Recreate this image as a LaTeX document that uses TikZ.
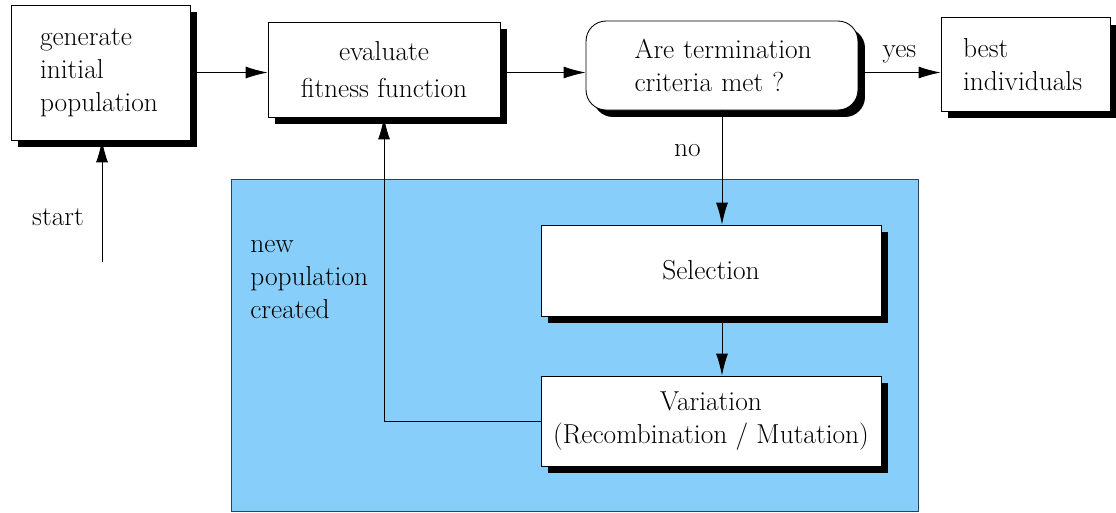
\documentclass[tikz,border=0pt]{standalone}
\usepackage{fontspec}
\usetikzlibrary{arrows.meta,shadows}
\definecolor{popblue}{RGB}{135,206,250}
\definecolor{popedge}{RGB}{45,65,90}
\tikzset{
  txt/.style={font=\fontsize{15.6}{18.8}\selectfont},
  procbox/.style={draw, fill=white, line width=0.5pt,
    drop shadow={fill=black, opacity=1, shadow xshift=0.14cm, shadow yshift=-0.14cm}},
}
\begin{document}
\begin{tikzpicture}[x=0.02cm,y=-0.02cm,>={Latex[length=0.44cm,width=0.24cm]},line width=0.5pt,txt]
	\useasboundingbox (0,0) rectangle (1116,512);

	% area of the new population
	\draw[popedge, fill=popblue] (231,179) rectangle (918,511);

	% the boxes
	\node[procbox, minimum width=3.58cm, minimum height=2.7cm, text width=2.42cm, inner xsep=0.58cm, align=left] (gen) at (100.5,72.5) {generate\\initial\\population\\[-0.2cm]};
	\node[procbox, minimum width=4.64cm, minimum height=1.9cm, align=center, font=\fontsize{15.6}{21}\selectfont] (eval) at (384,69.5) {evaluate\\fitness function};
	\node[procbox, rounded corners=0.4cm, minimum width=5.44cm, minimum height=1.78cm, text width=3.8cm, inner xsep=0.82cm, align=left] (crit) at (722,65.5) {\hspace*{0.15cm}Are termination\\\hspace*{0.15cm}criteria met ?};
	\node[procbox, minimum width=3.38cm, minimum height=1.88cm, text width=2.5cm, inner xsep=0.44cm, align=left] (best) at (1025.5,64.5) {best\\individuals};
	\node[procbox, minimum width=6.8cm, minimum height=1.82cm] (sel) at (711,270.5) {Selection};
	\node[procbox, minimum width=6.8cm, minimum height=1.8cm, align=center] (var) at (711,421) {Variation\\(Recombination / Mutation)};

	% the texts
	\node (startlbl) at (58,217) {start};
	\node[align=left, anchor=west] (newpop) at (244,280) {new\\population\\created};

	% the arrows
	\coordinate (start) at (102,262);
	\draw[->] (start) -- (gen.south -| start);
	\draw[->] (gen.east) -- (gen.east -| eval.west);
	\draw[->] (eval.east |- gen.east) -- (crit.west |- gen.east);
	\draw[->] (crit.east |- gen.east) -- node[above=0.07cm] {yes} (best.west |- gen.east);
	\draw[->] (crit) -- node[pos=0.35, left=0.3cm] {no} (sel.north -| crit);
	\draw[->] (sel.south -| crit) -- (var.north -| crit);
	\draw[->] (var.west) -| (eval.south);
\end{tikzpicture}
\end{document}
